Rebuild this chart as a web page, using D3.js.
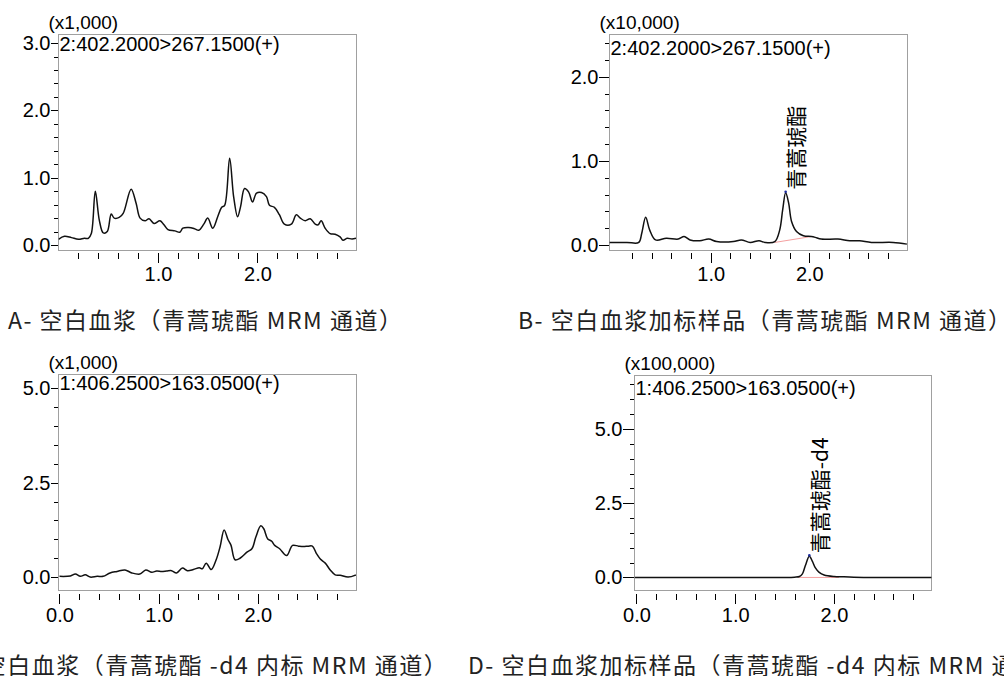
<!DOCTYPE html>
<html lang="zh">
<head>
<meta charset="utf-8">
<title>MRM chromatograms</title>
<script src="https://cdn.jsdelivr.net/npm/d3@7"></script>
<style>
  body { margin: 0; background: #fff; }
  svg text { font-family: "Liberation Sans", Arial, sans-serif; fill: #000; }
  .cjk { font-family: "Noto Sans CJK SC", "Noto Sans", sans-serif; }
</style>
</head>
<body>
<script>
// retention time (min) and intensity
var timeA = [0.0,0.06,0.13,0.2,0.26,0.3,0.33,0.37,0.41,0.45,0.49,0.53,0.56,0.61,0.65,0.73,0.78,0.82,0.87,0.91,0.96,1.02,1.06,1.10,1.17,1.22,1.25,1.31,1.37,1.41,1.46,1.50,1.55,1.60,1.64,1.67,1.72,1.76,1.80,1.83,1.87,1.91,1.95,1.99,2.04,2.09,2.12,2.17,2.22,2.27,2.34,2.39,2.43,2.48,2.53,2.58,2.61,2.64,2.68,2.73,2.78,2.83,2.86,2.90,2.95,2.99];
var signalA = [0.085,0.13,0.11,0.085,0.10,0.10,0.17,0.80,0.37,0.18,0.20,0.46,0.40,0.41,0.47,0.83,0.62,0.40,0.36,0.39,0.32,0.36,0.30,0.23,0.21,0.19,0.25,0.26,0.24,0.22,0.31,0.40,0.25,0.42,0.56,0.59,1.29,0.72,0.42,0.57,0.84,0.79,0.64,0.77,0.78,0.72,0.59,0.56,0.45,0.31,0.31,0.45,0.40,0.36,0.39,0.31,0.30,0.36,0.25,0.17,0.16,0.12,0.07,0.10,0.09,0.10];

var timeB = [-0.03,0.15,0.27,0.30,0.34,0.38,0.44,0.55,0.67,0.73,0.79,0.89,0.98,1.06,1.23,1.31,1.40,1.49,1.55,1.65,1.70,1.73,1.76,1.79,1.82,1.87,1.94,2.02,2.06,2.12,2.29,2.41,2.51,2.63,2.85,2.99];
var signalB = [0.03,0.03,0.03,0.14,0.33,0.18,0.06,0.08,0.07,0.10,0.06,0.05,0.07,0.04,0.04,0.06,0.03,0.05,0.03,0.04,0.18,0.42,0.62,0.50,0.28,0.16,0.11,0.10,0.09,0.07,0.07,0.05,0.05,0.03,0.03,0.01];

var timeC = [0.0,0.11,0.16,0.21,0.26,0.31,0.38,0.44,0.51,0.58,0.66,0.73,0.81,0.87,0.93,0.98,1.03,1.08,1.13,1.18,1.24,1.29,1.35,1.41,1.44,1.48,1.53,1.58,1.62,1.66,1.70,1.73,1.77,1.82,1.89,1.94,1.98,2.03,2.06,2.10,2.14,2.17,2.22,2.29,2.35,2.41,2.46,2.51,2.55,2.59,2.63,2.68,2.73,2.78,2.83,2.91,2.99];
var signalC = [0.02,0.03,0.08,0.02,0.06,0.0,0.02,0.02,0.11,0.15,0.19,0.11,0.08,0.19,0.13,0.16,0.15,0.16,0.17,0.11,0.24,0.17,0.20,0.25,0.22,0.37,0.20,0.46,0.81,1.25,0.99,0.84,0.46,0.50,0.66,0.75,1.06,1.36,1.28,1.01,0.95,0.84,0.75,0.57,0.84,0.82,0.81,0.82,0.82,0.63,0.48,0.37,0.19,0.06,0.05,0.0,0.06];

var timeD = [-0.02,0.5,1.0,1.5,1.6,1.65,1.68,1.71,1.75,1.78,1.81,1.85,1.9,2.0,2.1,2.3,2.6,2.99];
var signalD = [0,0,0,0,0.01,0.03,0.12,0.40,0.71,0.55,0.33,0.17,0.08,0.03,0.02,0.0,0.0,0.0];

var channels = ['2:402.2000>267.1500(+)', '2:402.2000>267.1500(+)', '1:406.2500>163.0500(+)', '1:406.2500>163.0500(+)'];
var multipliers = ['(x1,000)', '(x10,000)', '(x1,000)', '(x100,000)'];
var captions = [
  'A- 空白血浆（青蒿琥酯 MRM 通道）',
  'B- 空白血浆加标样品（青蒿琥酯 MRM 通道）',
  'C- 空白血浆（青蒿琥酯 -d4 内标 MRM 通道）',
  'D- 空白血浆加标样品（青蒿琥酯 -d4 内标 MRM 通道）'
];
var peakNames = [null, '青蒿琥酯', null, '青蒿琥酯-d4'];
var peakTop = [null, [1.76, 0.62], null, [1.75, 0.71]];
var peakBase = [null, [[1.65, 0.03], [2.02, 0.10]], null, [[1.64, 0.0], [2.05, 0.0]]];

var xMinor = d3.range(0, 2.81, 0.2).map(function(d) { return +d.toFixed(1); });
var xMajorA = [1.0, 2.0];
var xMajorC = [0.0, 1.0, 2.0];

// layout of each panel
var panels = [
  { t: timeA, v: signalA, box: [58.5, 34, 356, 250], xd: [0, 2.99], yd: [-0.074, 3.135],
    xMinor: xMinor.filter(function(d) { return d > 0; }), xMajor: xMajorA,
    yMinor: d3.range(0, 3.01, 0.2), yMajor: [0, 1, 2, 3], majLen: 8, chDy: 10, capX: 8, capY: 329 },
  { t: timeB, v: signalB, box: [609.5, 34, 907.5, 250], xd: [-0.027, 2.996], yd: [-0.06, 2.51],
    xMinor: xMinor.filter(function(d) { return d > 0; }), xMajor: xMajorA,
    yMinor: d3.range(0, 2.41, 0.2), yMajor: [0, 1, 2], majLen: 11, chDy: 14, capX: 518, capY: 329 },
  { t: timeC, v: signalC, box: [58.5, 374, 356, 590.5], xd: [-0.01, 2.99], yd: [-0.355, 5.38],
    xMinor: xMinor, xMajor: xMajorC,
    yMinor: d3.range(0, 5.01, 0.5), yMajor: [0, 2.5, 5], majLen: 8, chDy: 9, capX: -49, capY: 674 },
  { t: timeD, v: signalD, box: [634.5, 375, 931.5, 590.5], xd: [-0.02, 2.987], yd: [-0.44, 6.82],
    xMinor: xMinor, xMajor: xMajorC,
    yMinor: d3.range(0, 6.51, 0.5), yMajor: [0, 2.5, 5], majLen: 12, chDy: 13, capX: 468, capY: 674 }
];

var svg = d3.select('body').append('svg')
  .attr('width', 1004)
  .attr('height', 676);

panels.forEach(function(p, i) {
  var b = p.box;
  var x = d3.scaleLinear().domain(p.xd).range([b[0], b[2]]);
  var y = d3.scaleLinear().domain(p.yd).range([b[3], b[1]]);
  var g = svg.append('g');

  g.append('clipPath').attr('id', 'clip' + i)
    .append('rect').attr('x', b[0]).attr('y', b[1]).attr('width', b[2] - b[0]).attr('height', b[3] - b[1]);

  // y axis: minor and major ticks
  g.append('g').attr('transform', 'translate(' + b[0] + ',0)')
    .call(d3.axisLeft(y).tickValues(p.yMinor).tickSize(5).tickFormat(''))
    .call(function(s) { s.select('.domain').remove(); });
  g.append('g').attr('transform', 'translate(' + b[0] + ',0)')
    .call(d3.axisLeft(y).tickValues(p.yMajor).tickSize(p.majLen).tickPadding(0).tickFormat(d3.format('.1f')))
    .call(function(s) {
      s.select('.domain').remove();
      s.selectAll('text').style('font-size', '20px').style('font-family', '"Liberation Sans", Arial, sans-serif');
    });

  // x axis below the frame
  g.append('g').attr('transform', 'translate(0,' + (b[3] + 3) + ')')
    .call(d3.axisBottom(x).tickValues(p.xMinor).tickSize(6).tickFormat(''))
    .call(function(s) { s.select('.domain').remove(); });
  g.append('g').attr('transform', 'translate(0,' + (b[3] + 3) + ')')
    .call(d3.axisBottom(x).tickValues(p.xMajor).tickSize(10).tickPadding(4).tickFormat(d3.format('.1f')))
    .call(function(s) {
      s.select('.domain').remove();
      s.selectAll('text').style('font-size', '20px').style('font-family', '"Liberation Sans", Arial, sans-serif');
    });

  svg.selectAll('.tick line').attr('stroke', '#000').attr('shape-rendering', 'crispEdges');

  // frame
  g.append('rect')
    .attr('x', b[0]).attr('y', b[1])
    .attr('width', b[2] - b[0]).attr('height', b[3] - b[1])
    .attr('fill', 'none').attr('stroke', '#a0a0a0').attr('shape-rendering', 'crispEdges');

  // integration baseline
  if (peakBase[i]) {
    g.append('line')
      .attr('x1', x(peakBase[i][0][0])).attr('y1', y(peakBase[i][0][1]))
      .attr('x2', x(peakBase[i][1][0])).attr('y2', y(peakBase[i][1][1]))
      .attr('stroke', '#f4a0a0').attr('stroke-width', 1);
  }

  var pts = p.t.map(function(d, k) { return [d, p.v[k]]; });
  var line = d3.line()
    .x(function(d) { return x(d[0]); })
    .y(function(d) { return y(d[1]); })
    .curve(d3.curveCatmullRom.alpha(0.5));

  g.append('path')
    .datum(pts)
    .attr('clip-path', 'url(#clip' + i + ')')
    .attr('d', line)
    .attr('fill', 'none')
    .attr('stroke', '#111')
    .attr('stroke-width', 1.5);

  // peak marker and name
  if (peakTop[i]) {
    var px = x(peakTop[i][0]), py = y(peakTop[i][1]);
    g.append('circle').attr('cx', px).attr('cy', py - 1).attr('r', 1.3).attr('fill', '#1a2a9a');
    g.append('text')
      .attr('class', 'cjk')
      .attr('transform', 'translate(' + (px + 11) + ',' + (py - 3) + ') rotate(-90)')
      .attr('dy', '0.35em')
      .style('font-size', '21px')
      .text(peakNames[i]);
  }

  // multiplier and channel labels
  g.append('text')
    .attr('x', b[0] - 10).attr('y', b[1] - 12)
    .attr('dy', '0.35em')
    .style('font-size', '19px')
    .text(multipliers[i]);
  g.append('text')
    .attr('x', b[0] + 1).attr('y', b[1] + p.chDy)
    .attr('dy', '0.35em')
    .style('font-size', '20px')
    .text(channels[i]);

  // caption
  svg.append('text')
    .attr('class', 'cjk')
    .attr('x', p.capX).attr('y', p.capY)
    .style('font-size', '23px')
    .style('letter-spacing', '1.5px')
    .style('fill', '#222')
    .text(captions[i]);
});
</script>
</body>
</html>
